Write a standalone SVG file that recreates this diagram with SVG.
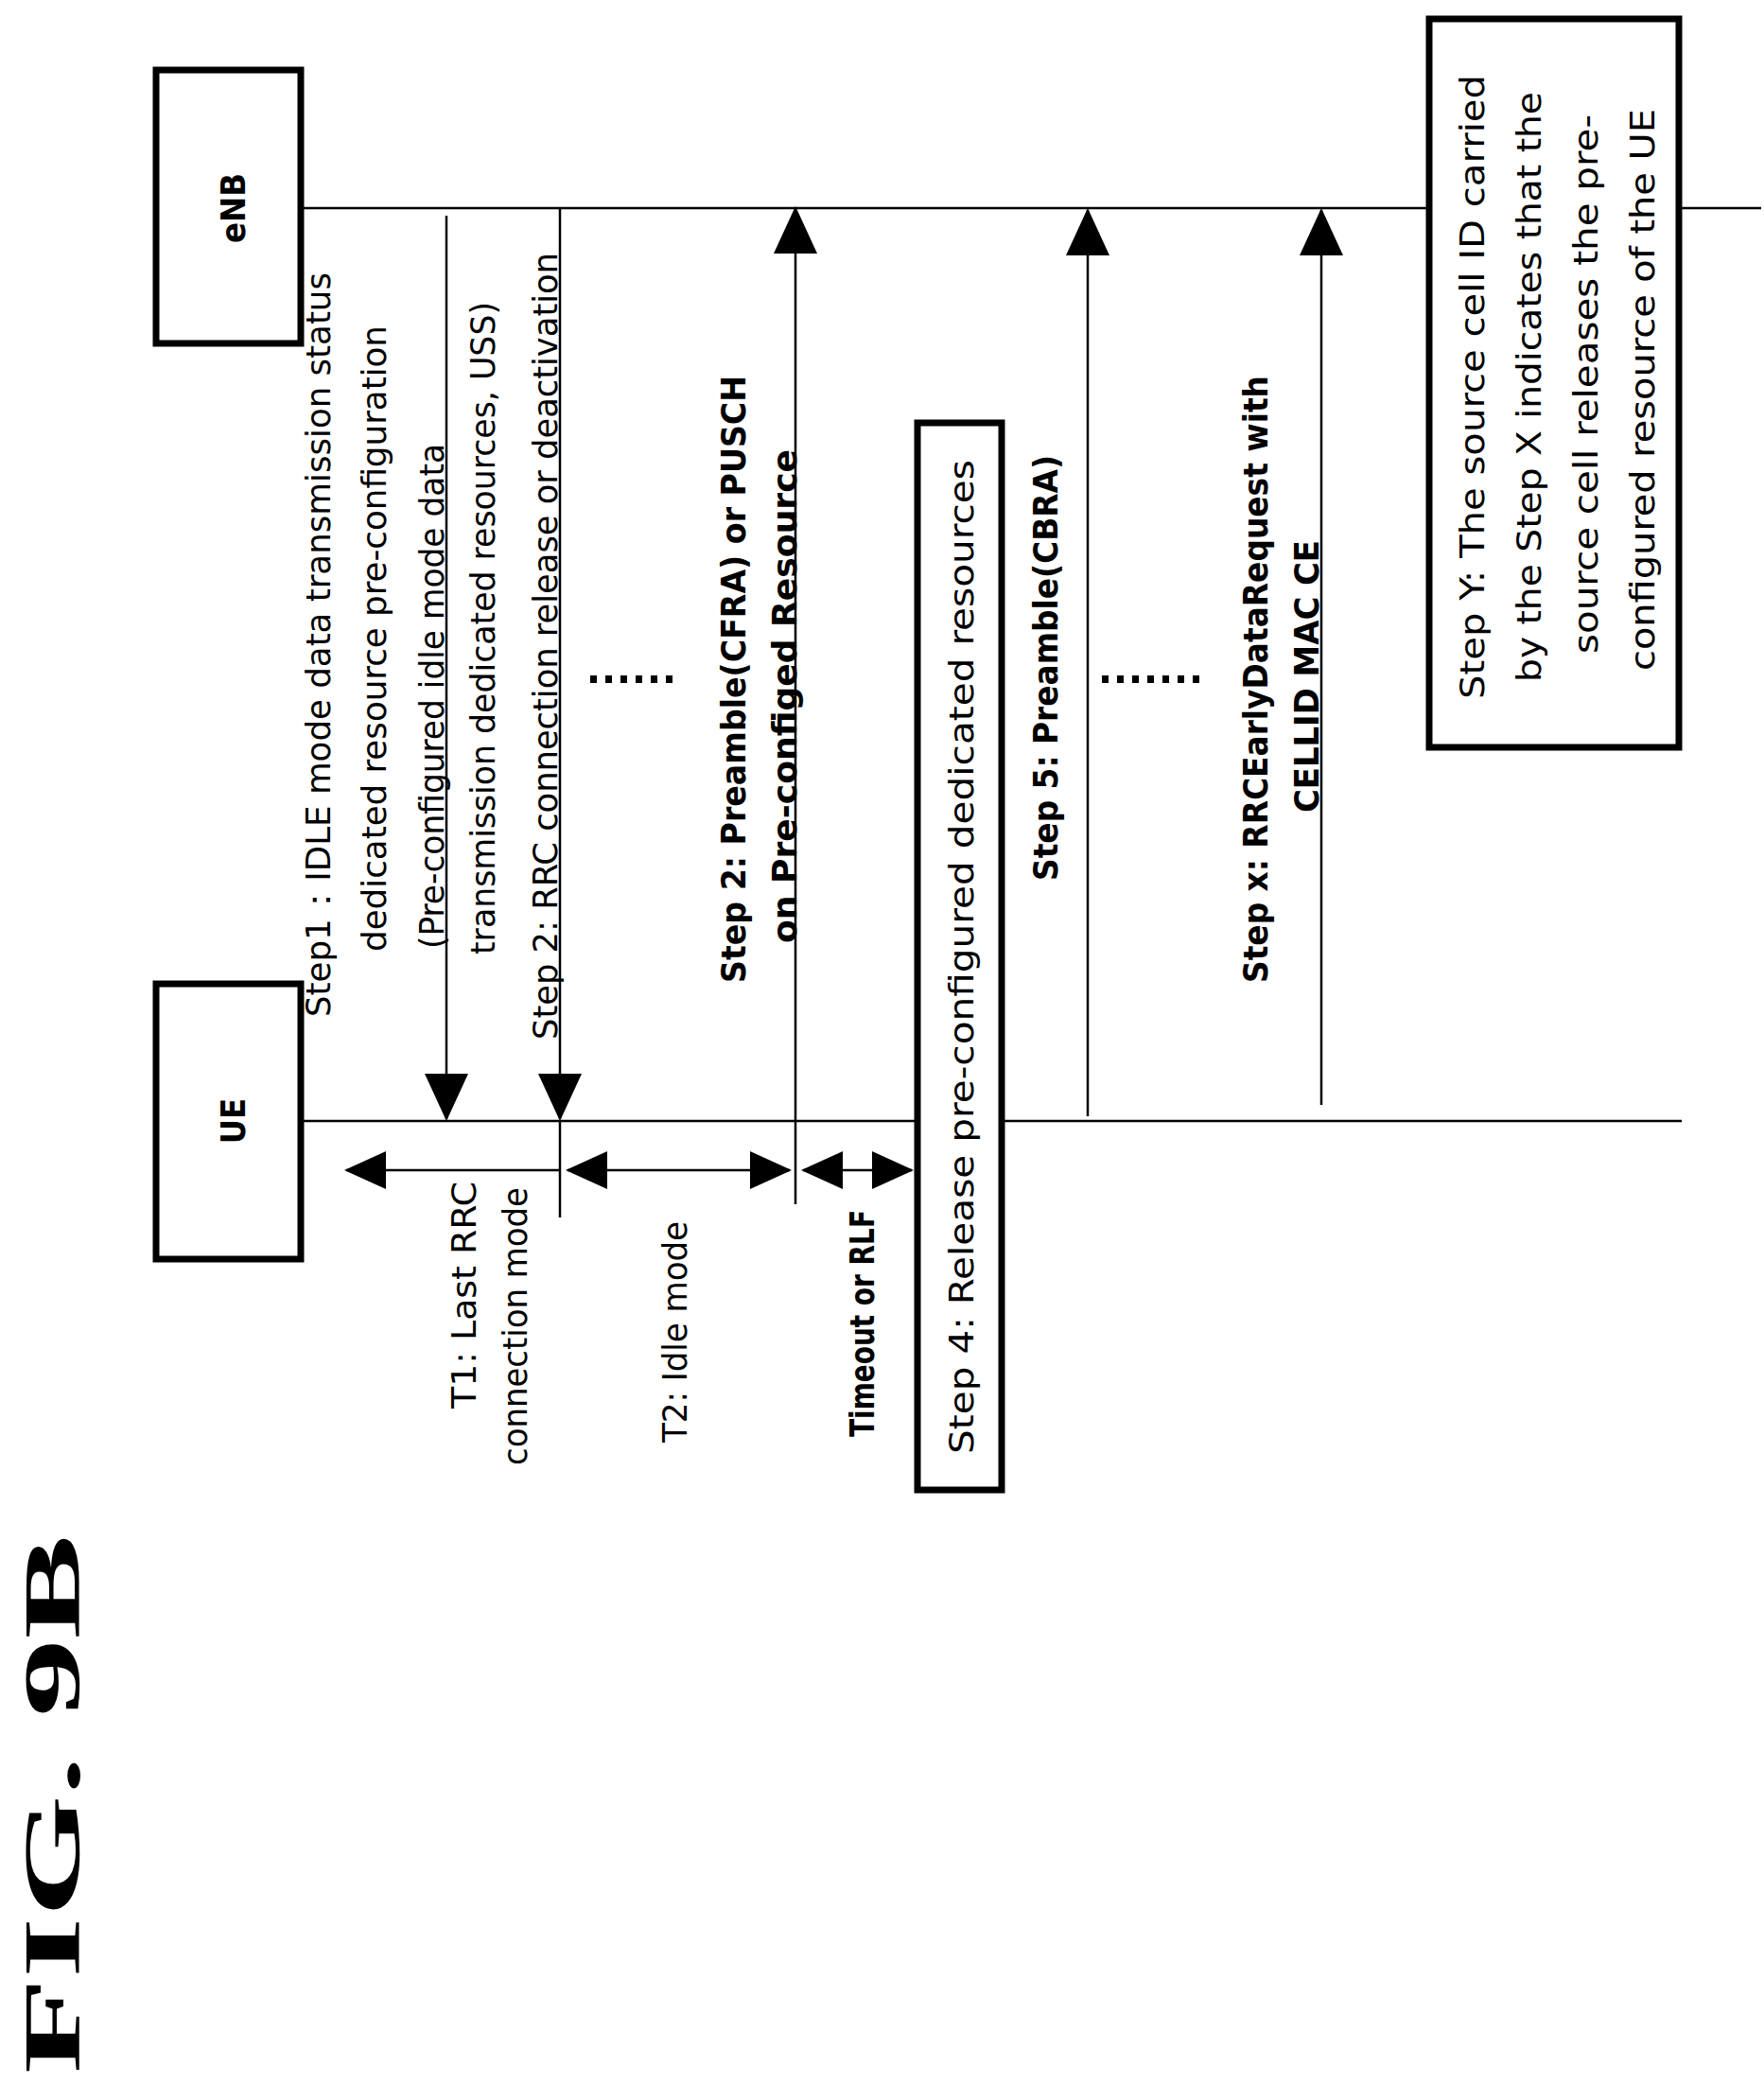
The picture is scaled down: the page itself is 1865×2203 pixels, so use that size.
<svg xmlns="http://www.w3.org/2000/svg" width="1865" height="2203" viewBox="0 0 1865 2203">
<style>
.ln{stroke:#000;stroke-width:2.5;fill:none}
.bx{stroke:#000;stroke-width:7;fill:#fff}
.t{font-family:"DejaVu Sans Condensed","DejaVu Sans",sans-serif;font-size:36px;fill:#000}
.b{font-weight:bold}
</style>
<defs>
<marker id="ah" markerUnits="userSpaceOnUse" markerWidth="50" markerHeight="50" viewBox="0 0 50 50" refX="48" refY="25" orient="auto"><path d="M0,2 L50,25 L0,48 Z" fill="#000"/></marker>
<marker id="hs" markerUnits="userSpaceOnUse" markerWidth="44" markerHeight="44" viewBox="0 0 44 44" refX="42" refY="22" orient="auto-start-reverse"><path d="M0,2 L44,22 L0,42 Z" fill="#000"/></marker>
</defs>
<rect width="1865" height="2203" fill="#fff"/>
<g id="connectors">
<line class="ln" x1="318" y1="220" x2="1862" y2="220"/>
<line class="ln" x1="318" y1="1185" x2="1778" y2="1185"/>
<line class="ln" x1="472" y1="228" x2="472" y2="1183" marker-end="url(#ah)"/>
<line class="ln" x1="592" y1="220" x2="592" y2="1183" marker-end="url(#ah)"/>
<line class="ln" x1="841" y1="1273" x2="841" y2="220" marker-end="url(#ah)"/>
<line class="ln" x1="1150" y1="1180" x2="1150" y2="222" marker-end="url(#ah)"/>
<line class="ln" x1="1397" y1="1168" x2="1397" y2="222" marker-end="url(#ah)"/>
<line class="ln" x1="592" y1="1185" x2="592" y2="1287"/>
<line class="ln" x1="592" y1="1237" x2="366" y2="1237" marker-end="url(#hs)"/>
<line class="ln" x1="600" y1="1237" x2="835" y2="1237" marker-start="url(#hs)" marker-end="url(#hs)"/>
<line class="ln" x1="849" y1="1237" x2="964" y2="1237" marker-start="url(#hs)" marker-end="url(#hs)"/>
<line x1="624" y1="718" x2="712" y2="718" stroke="#000" stroke-width="8" stroke-dasharray="7,9"/>
<line x1="1165" y1="718" x2="1273" y2="718" stroke="#000" stroke-width="8" stroke-dasharray="7,9"/>
</g>
<g id="eNB"><rect class="bx" x="165" y="74" width="153" height="289"/><text class="t b" transform="translate(259,220) rotate(-90)" text-anchor="middle" font-size="40">eNB</text></g>
<g id="UE"><rect class="bx" x="165" y="1040" width="153" height="291"/><text class="t b" transform="translate(259,1185) rotate(-90)" text-anchor="middle" font-size="40">UE</text></g>
<g id="step1">
<text class="t" transform="translate(349,1075) rotate(-90)" textLength="787" lengthAdjust="spacingAndGlyphs">Step1：IDLE mode data transmission status</text>
<text class="t" transform="translate(408,1006) rotate(-90)" textLength="662" lengthAdjust="spacingAndGlyphs">dedicated resource pre-configuration</text>
<text class="t" transform="translate(469,1003) rotate(-90)" textLength="534" lengthAdjust="spacingAndGlyphs">(Pre-configured idle mode data</text>
<text class="t" transform="translate(523,1009) rotate(-90)" textLength="690" lengthAdjust="spacingAndGlyphs">transmission dedicated resources, USS)</text>
<text class="t" transform="translate(589,1099) rotate(-90)" textLength="832" lengthAdjust="spacingAndGlyphs">Step 2: RRC connection release or deactivation</text>
</g>
<g id="step2">
<text class="t b" transform="translate(788,1039) rotate(-90)" textLength="642" lengthAdjust="spacingAndGlyphs">Step 2: Preamble(CFRA) or PUSCH</text>
<text class="t b" transform="translate(842,997) rotate(-90)" textLength="522" lengthAdjust="spacingAndGlyphs">on Pre-configed Resource</text>
</g>
<g id="step4"><rect class="bx" x="970" y="447" width="89" height="1128"/>
<text class="t" transform="translate(1029,1537) rotate(-90)" textLength="1051" lengthAdjust="spacingAndGlyphs">Step 4: Release pre-configured dedicated resources</text></g>
<g id="step5"><text class="t b" transform="translate(1118,931) rotate(-90)" textLength="450" lengthAdjust="spacingAndGlyphs">Step 5: Preamble(CBRA)</text></g>
<g id="stepx">
<text class="t b" transform="translate(1340,1039) rotate(-90)" textLength="642" lengthAdjust="spacingAndGlyphs">Step x: RRCEarlyDataRequest with</text>
<text class="t b" transform="translate(1394,859) rotate(-90)" textLength="288" lengthAdjust="spacingAndGlyphs">CELLID MAC CE</text>
</g>
<g id="stepY"><rect class="bx" x="1511" y="20" width="264" height="770"/>
<text class="t" font-size="40" transform="translate(1569,739) rotate(-90)" textLength="660" lengthAdjust="spacingAndGlyphs">Step Y: The source cell ID carried</text>
<text class="t" font-size="40" transform="translate(1629,721) rotate(-90)" textLength="624" lengthAdjust="spacingAndGlyphs">by the Step X indicates that the</text>
<text class="t" font-size="40" transform="translate(1689,691) rotate(-90)" textLength="570" lengthAdjust="spacingAndGlyphs">source cell releases the pre-</text>
<text class="t" font-size="40" transform="translate(1749,709) rotate(-90)" textLength="594" lengthAdjust="spacingAndGlyphs">configured resource of the UE</text>
</g>
<g id="timers">
<text class="t" font-size="32" transform="translate(503,1489) rotate(-90)" textLength="240" lengthAdjust="spacingAndGlyphs">T1:   Last RRC</text>
<text class="t" font-size="32" transform="translate(557,1549) rotate(-90)" textLength="294" lengthAdjust="spacingAndGlyphs">connection mode</text>
<text class="t" font-size="32" transform="translate(726,1525) rotate(-90)" textLength="234" lengthAdjust="spacingAndGlyphs">T2: Idle mode</text>
<text class="t b" font-size="32" transform="translate(924,1519) rotate(-90)" textLength="240" lengthAdjust="spacingAndGlyphs">Timeout or RLF</text>
</g>
<text font-family="Liberation Serif,serif" font-weight="bold" font-size="84" transform="translate(84,2192) rotate(-90)" textLength="570" lengthAdjust="spacingAndGlyphs">FIG. 9B</text>
</svg>
